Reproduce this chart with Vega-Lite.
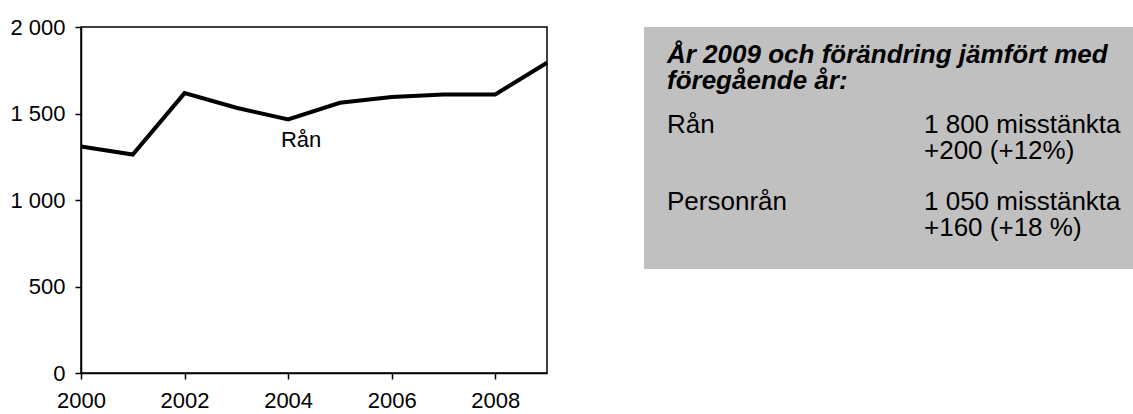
{
  "$schema": "https://vega.github.io/schema/vega-lite/v6.json",
  "background": "white",
  "padding": {"left": 9, "top": 15, "right": 0, "bottom": 0},
  "autosize": {"type": "pad"},
  "config": {"font": "Liberation Sans", "concat": {"spacing": 88}},
  "datasets": {
    "series": [
      {"year": 2000, "value": 1309},
      {"year": 2001, "value": 1263},
      {"year": 2002, "value": 1618},
      {"year": 2003, "value": 1533},
      {"year": 2004, "value": 1466},
      {"year": 2005, "value": 1562},
      {"year": 2006, "value": 1596},
      {"year": 2007, "value": 1610},
      {"year": 2008, "value": 1610},
      {"year": 2009, "value": 1793}
    ],
    "labels": [{"year": 2004.25, "value": 1307, "label": "Rån"}],
    "heading": [{"row": "title", "col": "label", "text": "År 2009 och förändring jämfört med\nföregående år:"}],
    "box": [
      {"row": "Rån", "col": "label", "text": "Rån"},
      {"row": "Rån", "col": "value", "text": "1 800 misstänkta\n+200 (+12%)"},
      {"row": "Personrån", "col": "label", "text": "Personrån"},
      {"row": "Personrån", "col": "value", "text": "1 050 misstänkta\n+160 (+18 %)"}
    ]
  },
  "hconcat": [
    {
      "width": 466,
      "height": 346,
      "view": {"stroke": "black", "strokeWidth": 1.5},
      "layer": [
        {
          "data": {"name": "series"},
          "mark": {"type": "line", "color": "black", "strokeWidth": 4},
          "encoding": {
            "x": {
              "field": "year", "type": "quantitative",
              "scale": {"domain": [2000, 2009], "nice": false, "zero": false},
              "axis": {"values": [2000, 2002, 2004, 2006, 2008], "format": "d", "title": null, "grid": false,
                "domainColor": "black", "domainWidth": 1.5, "tickColor": "black", "tickSize": 6, "tickWidth": 1.5,
                "labelFontSize": 22, "labelColor": "black", "labelPadding": 11, "labelFlush": false}
            },
            "y": {
              "field": "value", "type": "quantitative",
              "scale": {"domain": [0, 2000], "nice": false},
              "axis": {"values": [0, 500, 1000, 1500, 2000], "labelExpr": "replace(format(datum.value, ','), ',', ' ')",
                "title": null, "grid": false, "domainColor": "black", "domainWidth": 1.5, "tickColor": "black",
                "tickSize": 6, "tickWidth": 1.5, "labelFontSize": 22, "labelColor": "black", "labelPadding": 10}
            }
          }
        },
        {
          "data": {"name": "labels"},
          "mark": {"type": "text", "fontSize": 22, "align": "center", "baseline": "alphabetic", "color": "black"},
          "encoding": {
            "x": {"field": "year", "type": "quantitative"},
            "y": {"field": "value", "type": "quantitative"},
            "text": {"field": "label"}
          }
        }
      ]
    },
    {
      "width": 491,
      "height": 242,
      "view": {"fill": "#C0C0C0", "stroke": null},
      "layer": [
        {
          "data": {"name": "heading"},
          "mark": {"type": "text", "fontSize": 26, "fontWeight": "bold", "fontStyle": "italic", "align": "left",
            "baseline": "alphabetic", "lineBreak": "\n", "lineHeight": 26.3, "dy": 6.7, "color": "black"},
          "encoding": {
            "x": {"field": "col", "type": "nominal", "scale": {"type": "point", "domain": ["label", "value"], "range": [23, 280], "padding": 0}, "axis": null},
            "y": {"field": "row", "type": "nominal", "scale": {"type": "point", "domain": ["title", "Rån", "Personrån"], "range": [29, 183], "padding": 0}, "axis": null},
            "text": {"field": "text"}
          }
        },
        {
          "data": {"name": "box"},
          "mark": {"type": "text", "fontSize": 26, "align": "left", "baseline": "alphabetic", "lineBreak": "\n", "lineHeight": 26, "color": "black"},
          "encoding": {
            "x": {"field": "col", "type": "nominal", "axis": null},
            "y": {"field": "row", "type": "nominal", "axis": null},
            "text": {"field": "text"}
          }
        }
      ]
    }
  ]
}
